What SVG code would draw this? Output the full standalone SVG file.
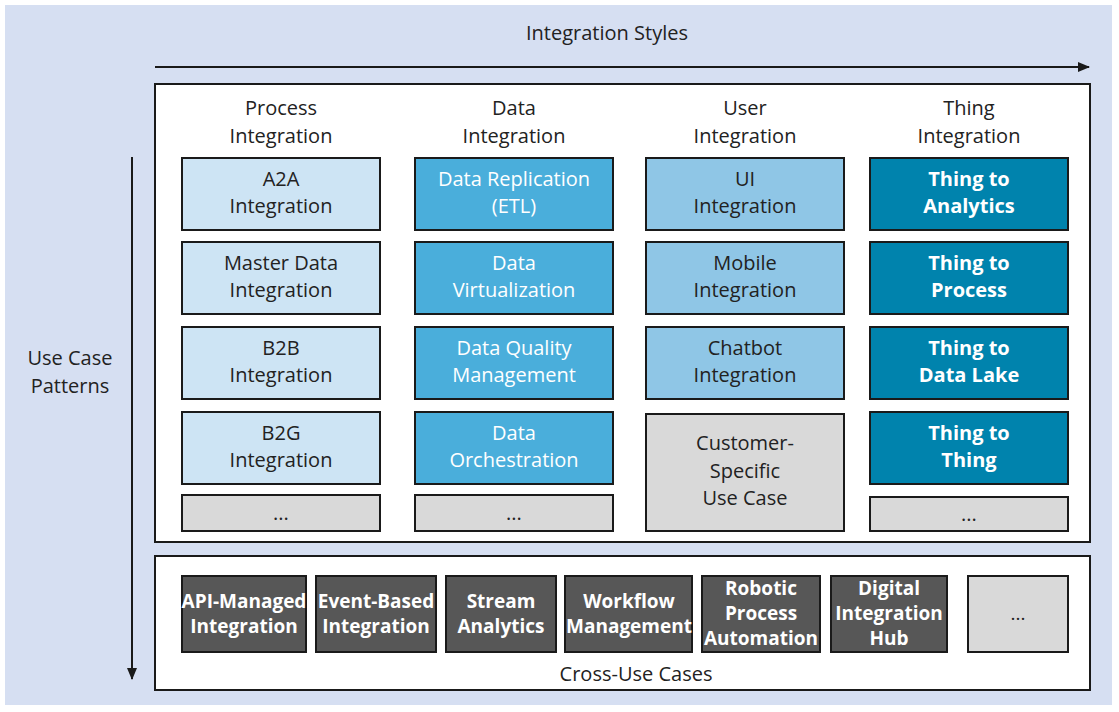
<svg xmlns="http://www.w3.org/2000/svg" width="1119" height="712" viewBox="0 0 1119 712">
<style>
text{font-family:"Open Sans","Noto Sans",sans-serif;font-size:20px;fill:#222;text-anchor:middle}
.b{stroke:#1a1a1a;stroke-width:2}
.l{fill:#cde4f4}.m{fill:#4aaedb}.u{fill:#8fc6e6}.d{fill:#0083ad}.g{fill:#d9d9d9}.k{fill:#575757}
.w{fill:#fff}.bold{font-weight:bold;fill:#fff}
.c text{font-size:19px;font-weight:bold;fill:#fff}
</style>
<defs><marker id="a" markerWidth="12" markerHeight="10" refX="11" refY="5" orient="auto" markerUnits="userSpaceOnUse"><path d="M0,0 L12,5 L0,10 z" fill="#1a1a1a"/></marker></defs>
<rect x="0" y="0" width="1119" height="712" fill="#fff"/>
<rect x="5" y="5" width="1107" height="700" fill="#d6dff2"/>
<text x="607" y="40">Integration Styles</text>
<text x="70" y="365">Use Case</text><text x="70" y="393">Patterns</text>
<g id="connectors" stroke="#1a1a1a" stroke-width="2" fill="none">
<line x1="155" y1="67" x2="1089" y2="67" marker-end="url(#a)"/>
<line x1="132" y1="157" x2="132" y2="679" marker-end="url(#a)"/>
</g>
<rect class="b" x="155" y="84" width="935" height="458" fill="#fff"/>
<rect class="b" x="155" y="556" width="935" height="134" fill="#fff"/>
<text x="281" y="115">Process</text><text x="281" y="143">Integration</text>
<text x="514" y="115">Data</text><text x="514" y="143">Integration</text>
<text x="745" y="115">User</text><text x="745" y="143">Integration</text>
<text x="969" y="115">Thing</text><text x="969" y="143">Integration</text>
<g id="p1"><rect class="b l" x="182" y="158" width="198" height="72"/><text x="281" y="186">A2A</text><text x="281" y="213">Integration</text></g>
<g id="p2"><rect class="b l" x="182" y="242" width="198" height="72"/><text x="281" y="270">Master Data</text><text x="281" y="297">Integration</text></g>
<g id="p3"><rect class="b l" x="182" y="327" width="198" height="72"/><text x="281" y="355">B2B</text><text x="281" y="382">Integration</text></g>
<g id="p4"><rect class="b l" x="182" y="412" width="198" height="72"/><text x="281" y="440">B2G</text><text x="281" y="467">Integration</text></g>
<g id="p5"><rect class="b g" x="182" y="495" width="198" height="36"/><text x="281" y="520">...</text></g>
<g id="d1"><rect class="b m" x="415" y="158" width="198" height="72"/><text class="w" x="514" y="186">Data Replication</text><text class="w" x="514" y="213">(ETL)</text></g>
<g id="d2"><rect class="b m" x="415" y="242" width="198" height="72"/><text class="w" x="514" y="270">Data</text><text class="w" x="514" y="297">Virtualization</text></g>
<g id="d3"><rect class="b m" x="415" y="327" width="198" height="72"/><text class="w" x="514" y="355">Data Quality</text><text class="w" x="514" y="382">Management</text></g>
<g id="d4"><rect class="b m" x="415" y="412" width="198" height="72"/><text class="w" x="514" y="440">Data</text><text class="w" x="514" y="467">Orchestration</text></g>
<g id="d5"><rect class="b g" x="415" y="495" width="198" height="36"/><text x="514" y="520">...</text></g>
<g id="u1"><rect class="b u" x="646" y="158" width="198" height="72"/><text x="745" y="186">UI</text><text x="745" y="213">Integration</text></g>
<g id="u2"><rect class="b u" x="646" y="242" width="198" height="72"/><text x="745" y="270">Mobile</text><text x="745" y="297">Integration</text></g>
<g id="u3"><rect class="b u" x="646" y="327" width="198" height="72"/><text x="745" y="355">Chatbot</text><text x="745" y="382">Integration</text></g>
<g id="u4"><rect class="b g" x="646" y="414" width="198" height="117"/><text x="745" y="450">Customer-</text><text x="745" y="478">Specific</text><text x="745" y="505">Use Case</text></g>
<g id="t1"><rect class="b d" x="870" y="158" width="198" height="72"/><text class="bold" x="969" y="186">Thing to</text><text class="bold" x="969" y="213">Analytics</text></g>
<g id="t2"><rect class="b d" x="870" y="242" width="198" height="72"/><text class="bold" x="969" y="270">Thing to</text><text class="bold" x="969" y="297">Process</text></g>
<g id="t3"><rect class="b d" x="870" y="327" width="198" height="72"/><text class="bold" x="969" y="355">Thing to</text><text class="bold" x="969" y="382">Data Lake</text></g>
<g id="t4"><rect class="b d" x="870" y="412" width="198" height="72"/><text class="bold" x="969" y="440">Thing to</text><text class="bold" x="969" y="467">Thing</text></g>
<g id="t5"><rect class="b g" x="870" y="497" width="198" height="34"/><text x="969" y="521">...</text></g>
<g class="c">
<g id="c1"><rect class="b k" x="182" y="576" width="124" height="76"/><text x="244" y="608">API-Managed</text><text x="244" y="633">Integration</text></g>
<g id="c2"><rect class="b k" x="316" y="576" width="120" height="76"/><text x="376" y="608">Event-Based</text><text x="376" y="633">Integration</text></g>
<g id="c3"><rect class="b k" x="446" y="576" width="110" height="76"/><text x="501" y="608">Stream</text><text x="501" y="633">Analytics</text></g>
<g id="c4"><rect class="b k" x="565" y="576" width="127" height="76"/><text x="629" y="608">Workflow</text><text x="629" y="633">Management</text></g>
<g id="c5"><rect class="b k" x="702" y="576" width="118" height="76"/><text x="761" y="595">Robotic</text><text x="761" y="620">Process</text><text x="761" y="645">Automation</text></g>
<g id="c6"><rect class="b k" x="831" y="576" width="116" height="76"/><text x="889" y="595">Digital</text><text x="889" y="620">Integration</text><text x="889" y="645">Hub</text></g>
<g id="c7"><rect class="b g" x="968" y="576" width="100" height="76"/><text x="1018" y="620" style="fill:#222;font-weight:normal">...</text></g>
</g>
<text x="636" y="681">Cross-Use Cases</text>
</svg>
